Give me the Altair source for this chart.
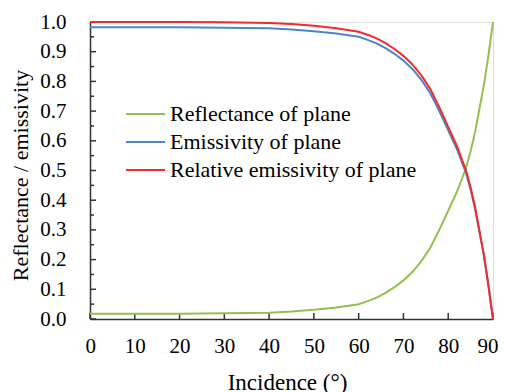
import altair as alt
import pandas as pd

angles = [0, 10, 20, 30, 40, 45, 50, 55, 60, 62, 64, 66, 68, 70, 72, 74, 76, 78, 80, 82, 84, 85, 86, 87, 88, 89, 90]
reflectance = [0.018, 0.018, 0.018, 0.019, 0.021, 0.025, 0.031, 0.039, 0.050, 0.060, 0.072, 0.088, 0.107, 0.130,
               0.158, 0.195, 0.240, 0.300, 0.365, 0.430, 0.510, 0.565, 0.630, 0.710, 0.790, 0.890, 1.000]
emissivity = [0.982, 0.982, 0.982, 0.981, 0.979, 0.975, 0.969, 0.961, 0.950, 0.940, 0.928, 0.912, 0.893, 0.870,
              0.842, 0.805, 0.760, 0.700, 0.635, 0.570, 0.490, 0.435, 0.370, 0.290, 0.210, 0.110, 0.000]
relative = [1.000, 1.000, 1.000, 0.999, 0.997, 0.993, 0.987, 0.979, 0.967, 0.957, 0.945, 0.929, 0.909, 0.886,
            0.857, 0.820, 0.774, 0.713, 0.647, 0.580, 0.499, 0.443, 0.377, 0.295, 0.214, 0.112, 0.000]

names = ["Reflectance of plane", "Emissivity of plane", "Relative emissivity of plane"]
colors = ["#92C050", "#4A86CF", "#F52A2A"]
y_ticks = [0.0, 0.1, 0.2, 0.3, 0.4, 0.5, 0.6, 0.7, 0.8, 0.9, 1.0]
y_minor = [0.05, 0.15, 0.25, 0.35, 0.45, 0.55, 0.65, 0.75, 0.85, 0.95]
x_ticks = [0, 10, 20, 30, 40, 50, 60, 70, 80, 90]

rows = []
for k, (n, vals) in enumerate(zip(names, [reflectance, emissivity, relative])):
    for a, v in zip(angles, vals):
        rows.append({"angle": a, "value": v, "series": n, "k": k})
df = pd.DataFrame(rows)

FONT = "Liberation Serif"
W, H = 403, 297
AXC = "#333333"

yt_major = alt.Chart(pd.DataFrame({"v": y_ticks})).mark_rule(color=AXC, strokeWidth=1.5).encode(
    y=alt.Y("v:Q", axis=None), x=alt.value(0), x2=alt.value(6))
yt_minor = alt.Chart(pd.DataFrame({"v": y_minor})).mark_rule(color=AXC, strokeWidth=1.5).encode(
    y=alt.Y("v:Q", axis=None), x=alt.value(0), x2=alt.value(4))
xt = alt.Chart(pd.DataFrame({"a": x_ticks})).mark_rule(color=AXC, strokeWidth=1.5).encode(
    x=alt.X("a:Q", axis=None), y=alt.value(H - 6), y2=alt.value(H))

lines = alt.Chart(df).mark_line(strokeWidth=2).encode(
    x=alt.X("angle:Q", scale=alt.Scale(domain=[0, 90], nice=False),
            axis=alt.Axis(orient="bottom", values=x_ticks, ticks=False, tickSize=0, grid=False,
                          labelPadding=16, labelFontSize=21, labelFont=FONT, labelColor="#000",
                          labelFlush=True, labelFlushOffset=5,
                          domainColor=AXC, domainWidth=1.5,
                          title="Incidence (°)", titleFont=FONT, titleFontSize=23,
                          titleFontWeight="normal", titleColor="#000",
                          titleBaseline="alphabetic", titleY=70, titleX=197)),
    y=alt.Y("value:Q", scale=alt.Scale(domain=[0, 1], nice=False),
            axis=alt.Axis(orient="left", values=y_ticks, format=".1f", ticks=False, tickSize=0, grid=False,
                          labelPadding=24, labelFontSize=21, labelFont=FONT, labelColor="#000",
                          labelFlush=False,
                          domainColor=AXC, domainWidth=1.5,
                          title="Reflectance / emissivity", titleFont=FONT, titleFontSize=22,
                          titleFontWeight="normal", titleColor="#000", titleAngle=270,
                          titleAlign="center", titleBaseline="alphabetic", titleX=-63, titleY=153)),
    color=alt.Color("series:N", scale=alt.Scale(domain=names, range=colors),
                    legend=alt.Legend(orient="none", legendX=35, legendY=78, title=None,
                                      symbolType="stroke", symbolSize=1521, symbolStrokeWidth=2,
                                      labelFont=FONT, labelFontSize=22, labelColor="#000",
                                      labelOffset=4, rowPadding=0, clipHeight=28, padding=0,
                                      labelLimit=400)),
    order="k:Q",
)

chart = alt.layer(yt_major, yt_minor, xt, lines).resolve_axis(
    x="independent", y="independent"
).properties(
    width=W, height=H,
    autosize=alt.AutoSizeParams(type="none"),
    padding={"left": 82, "top": 14, "right": 6, "bottom": 75},
).configure_view(stroke=None).configure(background="white", font=FONT).configure_axis(
    labelFont=FONT, titleFont=FONT
).configure_legend(labelFont=FONT)

chart.save("out.html", embed_options={"renderer": "svg", "actions": False})
